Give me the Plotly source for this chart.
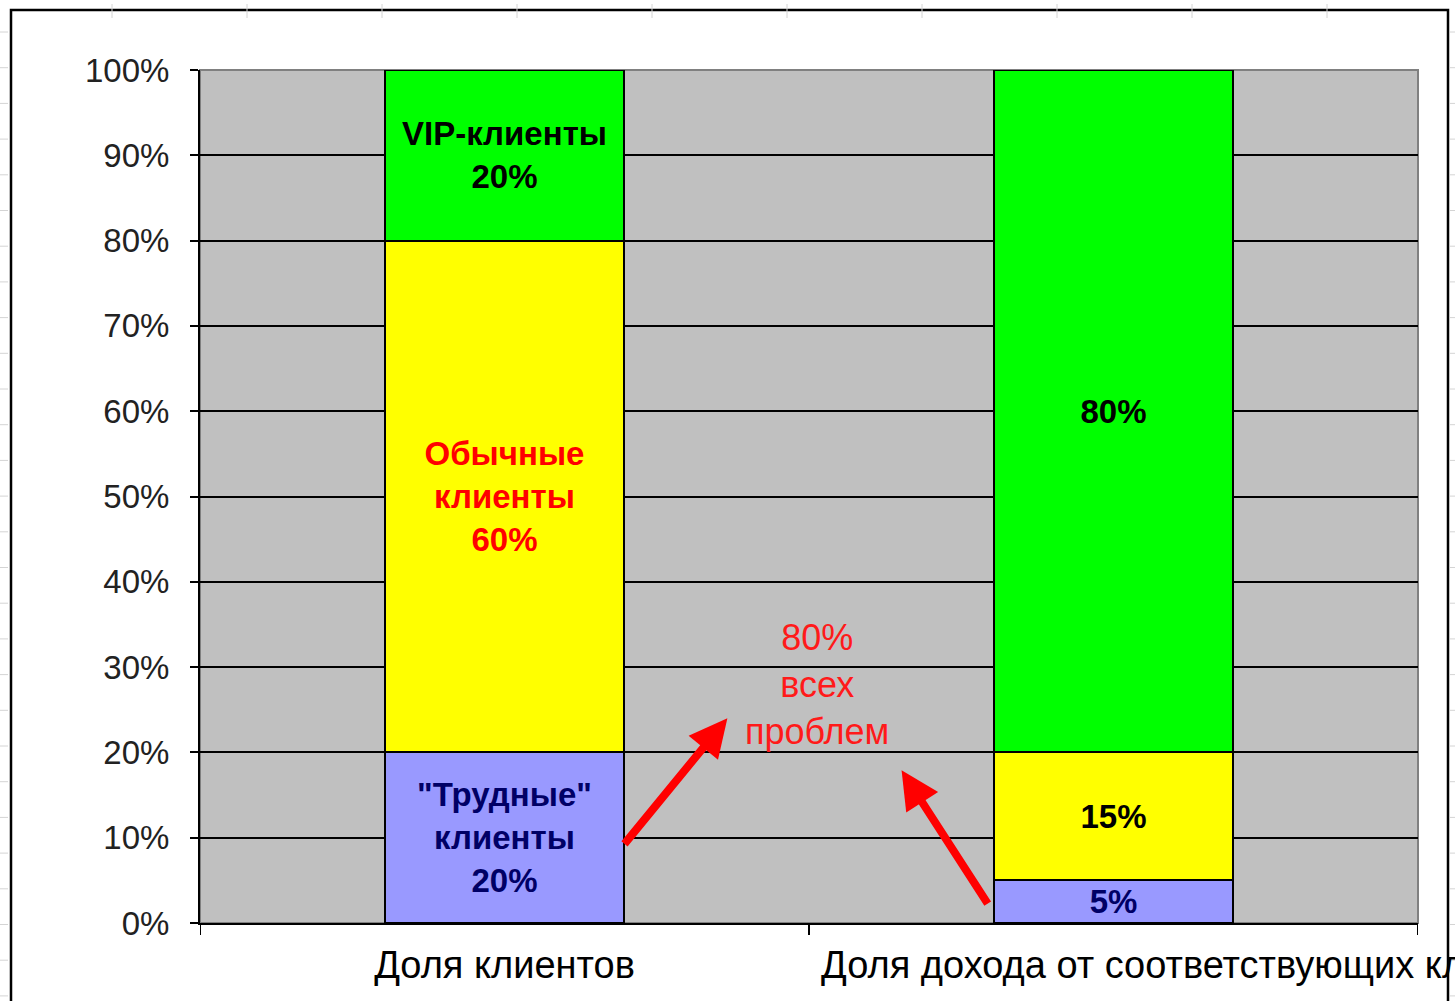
import plotly.graph_objects as go

categories = ["Доля клиентов", "Доля дохода от соответствующих клиентов"]
difficult = [20, 5]
ordinary = [60, 15]
vip = [20, 80]

difficult_text = ['"Трудные"<br>клиенты<br>20%', "5%"]
ordinary_text = ["Обычные<br>клиенты<br>60%", "15%"]
vip_text = ["VIP-клиенты<br>20%", "80%"]

y_ticks = [0, 10, 20, 30, 40, 50, 60, 70, 80, 90, 100]
y_tick_labels = ["0%", "10%", "20%", "30%", "40%", "50%", "60%", "70%", "80%", "90%", "100%"]
note_text = "80%<br>всех<br>проблем"

FONT = "Liberation Sans, Arial, sans-serif"
LBL = dict(family=FONT, size=33)
XFONT = dict(family=FONT, size=38, color="black")

# page-pixel geometry of the plot area (used only for decorative frame shapes)
L, R, T, B = 200, 1418, 70, 923
W, H = 1455, 1001


def px(x):
    return (x - L) / (R - L)


def py(y):
    return (B - y) / (B - T)


fig = go.Figure()
fig.add_trace(go.Bar(
    x=[0, 1], y=difficult, text=difficult_text, name="Трудные",
    marker=dict(color="#9999FF", line=dict(color="black", width=2)),
    textposition="inside", insidetextanchor="middle", constraintext="none",
    textfont=dict(LBL, color=["#000066", "#000066"], weight="bold"),
    hoverinfo="skip"))
fig.add_trace(go.Bar(
    x=[0, 1], y=ordinary, text=ordinary_text, name="Обычные",
    marker=dict(color="#FFFF00", line=dict(color="black", width=2)),
    textposition="inside", insidetextanchor="middle", constraintext="none",
    textfont=dict(LBL, color=["#FF0000", "#000000"], weight="bold"),
    hoverinfo="skip"))
fig.add_trace(go.Bar(
    x=[0, 1], y=vip, text=vip_text, name="VIP",
    marker=dict(color="#00FF00", line=dict(color="black", width=2)),
    textposition="inside", insidetextanchor="middle", constraintext="none",
    textfont=dict(LBL, color=["#000000", "#000000"], weight="bold"),
    hoverinfo="skip"))

# plot-area border (gray, like Excel)
fig.add_shape(type="rect", xref="paper", yref="paper", x0=0, y0=0, x1=1, y1=1,
              line=dict(color="#808080", width=2), layer="between")
# outer worksheet frame
fig.add_shape(type="rect", xref="paper", yref="paper", x0=px(11), y0=py(1010),
              x1=px(1448), y1=py(10), line=dict(color="black", width=2.5),
              layer="below")
# faint worksheet cell marks outside the frame
for k in range(10):
    xx = 112 + 135 * k
    fig.add_shape(type="line", xref="paper", yref="paper", x0=px(xx), x1=px(xx),
                  y0=py(4), y1=py(18), line=dict(color="#d4d4d4", width=1), layer="below")
for k in range(28):
    yy = 32 + 35.7 * k
    fig.add_shape(type="line", xref="paper", yref="paper", x0=px(0), x1=px(8),
                  y0=py(yy), y1=py(yy), line=dict(color="#d4d4d4", width=1), layer="below")
    fig.add_shape(type="line", xref="paper", yref="paper", x0=px(1450), x1=px(1455),
                  y0=py(yy), y1=py(yy), line=dict(color="#d4d4d4", width=1), layer="below")

# text note
fig.add_annotation(x=0.513, y=28.0, xref="x", yref="y", text=note_text,
                   showarrow=False, font=dict(family=FONT, size=36, color="#FF1A1A"),
                   xanchor="center", yanchor="middle")
# arrows
fig.add_annotation(x=0.366, y=24.0, ax=0.195, ay=9.1, xref="x", yref="y",
                   axref="x", ayref="y", text="", showarrow=True,
                   arrowhead=2, arrowsize=0.95, arrowwidth=8, arrowcolor="#FF0000")
fig.add_annotation(x=0.652, y=17.9, ax=0.795, ay=2.1, xref="x", yref="y",
                   axref="x", ayref="y", text="", showarrow=True,
                   arrowhead=2, arrowsize=0.95, arrowwidth=8, arrowcolor="#FF0000")

# second category label: Excel placed it starting just right of the middle boundary
fig.add_annotation(x=0.516, y=0, xref="x", yref="paper", text=categories[1],
                   showarrow=False, font=XFONT, xanchor="left", yanchor="top",
                   yshift=-19)

fig.update_layout(
    width=W, height=H,
    barmode="stack", bargap=0.607,
    showlegend=False,
    paper_bgcolor="white", plot_bgcolor="#C0C0C0",
    margin=dict(l=L, r=W - R, t=T, b=H - B),
    font=dict(family=FONT, color="black"),
)
fig.update_xaxes(
    type="linear", range=[-0.5, 1.5],
    tickmode="array", tickvals=[0, 1], ticktext=[categories[0], ""], tickangle=0,
    showgrid=False, zeroline=False,
    showline=True, linecolor="black", linewidth=2,
    ticks="", tickfont=XFONT, ticklabelstandoff=7,
    automargin=False, ticklabeloverflow="allow",
)
# boundary tick marks on the category axis
for b in [-0.5, 0.5, 1.5]:
    fig.add_shape(type="line", xref="x", yref="paper", x0=b, x1=b, y0=0, y1=-0.014,
                  line=dict(color="black", width=2))
fig.update_yaxes(
    range=[0, 100], tickmode="array", tickvals=y_ticks, ticktext=y_tick_labels,
    showgrid=True, gridcolor="black", gridwidth=1.5,
    zeroline=False, showline=True, linecolor="black", linewidth=2,
    ticks="outside", ticklen=8, tickcolor="black", tickwidth=2,
    tickfont=dict(family=FONT, size=33, color="#222222"),
    ticklabelstandoff=14, automargin=False,
)

fig.write_html("out.html", config={"displayModeBar": False},
               post_script="document.body.style.margin='0';document.body.style.overflow='hidden';")
